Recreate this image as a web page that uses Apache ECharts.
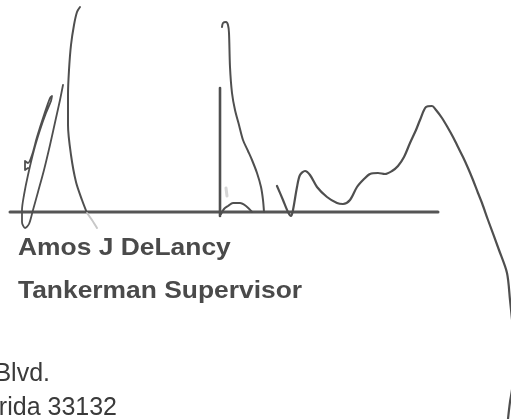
<!DOCTYPE html>
<html>
<head>
<meta charset="utf-8">
<script src="https://cdn.jsdelivr.net/npm/echarts@6/dist/echarts.min.js"></script>
<style>html,body{margin:0;padding:0;background:#fff}#c{width:511px;height:419px}</style>
</head>
<body>
<div id="c"></div>
<script>
// Signature strokes, as [x, y] points in the page's coordinate space (y grows downward)
const signatureLine = [[10, 212], [438, 212]];
const loopStroke = [[28,168],[25,170],[25,161],[28,163],[32,155],[37,137],[44,115],[50,98],[52,96],[51,101],[46,113],[40,130],[34,150],[28,175],[24,195],[22,210],[22,222],[25,228],[29,224],[33,210],[38,192],[44,170],[50,145],[56,118],[60,100],[63,85]];
const tallStroke = [[80,7],[77,12],[74,25],[71,45],[69,70],[68,95],[68,125],[71,155],[76,182],[82,200],[87,213]];
const fadedTail = [[87,213],[92,220],[97,228]];
const verticalStroke = [[220,88],[220,216]];
const archStroke = [[221,214],[224,209],[228,206],[233,203],[240,203],[246,206],[252,212]];
const hookStroke = [[222,27],[223,23],[226,22],[228,25],[229,33],[230,67],[232,93],[235,110],[239,125],[243,140],[248,151],[252,160],[257,173],[261,187],[263,200],[264,212]];
const waveStroke = [[277,186],[283,200],[288,212],[291,216],[293,210],[297,187],[300,175],[305,171],[310,175],[317,187],[327,197],[337,203],[343,204],[350,200],[357,187],[364,179],[370,174],[378,173],[385,174],[392,171],[398,166],[404,157],[410,143],[416,130],[420,120],[426,107],[432,106],[436,110],[442,118],[448,128],[453,137],[458,147],[463,157],[468,168],[473,180],[478,193],[482,203],[488,220],[499,250],[507,273],[510,300],[513,330],[515,360],[512,390],[510,402],[508,419]];
const smudgeMark = [[226,188],[227,196]];

// Printed text lines
const nameLine = 'Amos J DeLancy';
const titleLine = 'Tankerman Supervisor';
const addressLine1 = 'Blvd.';
const addressLine2 = 'rida 33132';

const ink = '#4f4f4f';
function stroke(data, width, color, smooth) {
  return {
    type: 'line', data: data, showSymbol: false, silent: true,
    smooth: smooth, animation: false, clip: true,
    lineStyle: { color: color, width: width, cap: 'round', join: 'round' }
  };
}

const chart = echarts.init(document.getElementById('c'), null, { renderer: 'canvas' });
chart.setOption({
  backgroundColor: '#ffffff',
  animation: false,
  grid: { left: 0, right: 0, top: 0, bottom: 0 },
  xAxis: { type: 'value', min: 0, max: 511, show: false },
  yAxis: { type: 'value', min: 0, max: 419, inverse: true, show: false },
  series: [
    stroke(signatureLine, 3, '#555555', false),
    stroke(loopStroke, 1.8, ink, 0.3),
    stroke(tallStroke, 2, ink, 0.3),
    stroke(fadedTail, 2, '#c8c8c8', 0.3),
    stroke(verticalStroke, 2.6, ink, false),
    stroke(archStroke, 2, ink, 0.3),
    stroke(hookStroke, 2, ink, 0.3),
    stroke(waveStroke, 2.2, ink, 0.3),
    stroke(smudgeMark, 3, '#d6d6d6', false)
  ],
  graphic: [
    { type: 'text', x: 18, y: 248.5, scaleX: 1.1, silent: true,
      style: { text: nameLine, font: 'bold 24px "Liberation Sans", Arial, sans-serif', fill: '#4a4a4a', textAlign: 'left', textVerticalAlign: 'middle' } },
    { type: 'text', x: 18, y: 291, scaleX: 1.1, silent: true,
      style: { text: titleLine, font: 'bold 24px "Liberation Sans", Arial, sans-serif', fill: '#4a4a4a', textAlign: 'left', textVerticalAlign: 'middle' } },
    { type: 'text', x: 50, y: 374, silent: true,
      style: { text: addressLine1, font: '25px "Liberation Sans", Arial, sans-serif', fill: '#3a3a3a', textAlign: 'right', textVerticalAlign: 'middle' } },
    { type: 'text', x: 117, y: 408.5, silent: true,
      style: { text: addressLine2, font: '25px "Liberation Sans", Arial, sans-serif', fill: '#3a3a3a', textAlign: 'right', textVerticalAlign: 'middle' } }
  ]
});
</script>
</body>
</html>
